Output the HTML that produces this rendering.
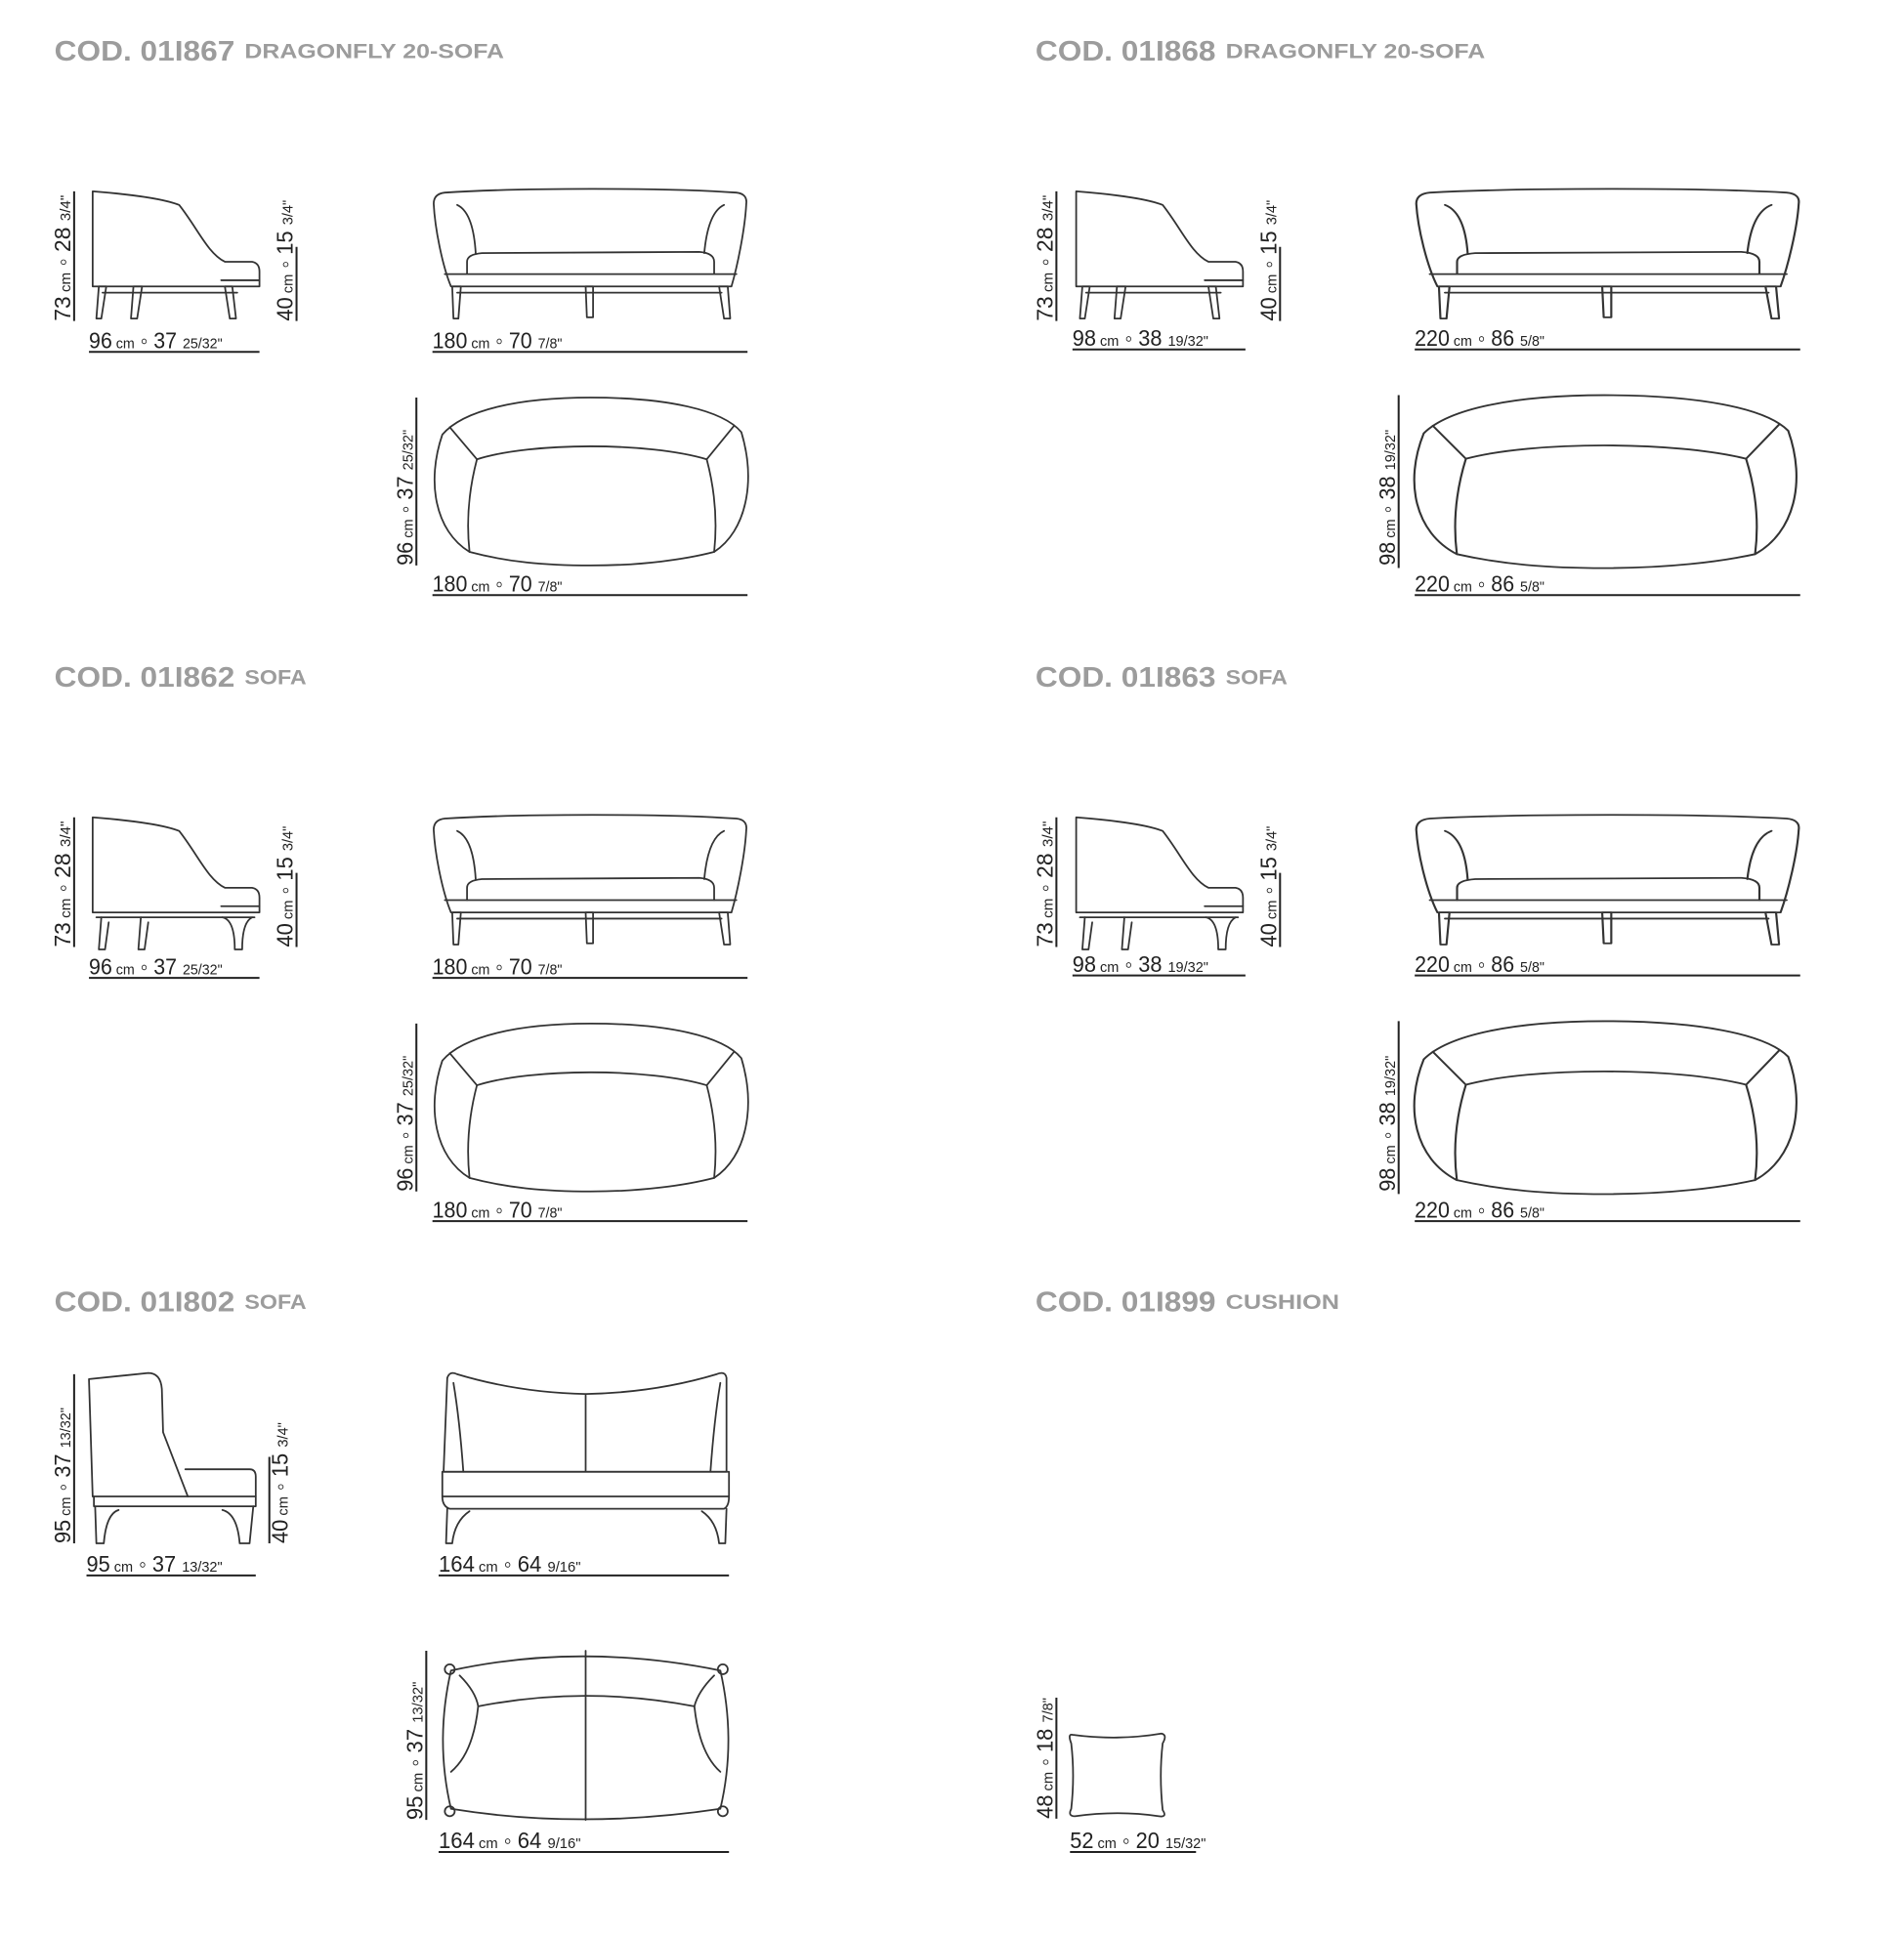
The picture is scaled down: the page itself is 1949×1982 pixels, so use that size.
<!DOCTYPE html>
<html><head><meta charset="utf-8"><style>
html,body{margin:0;padding:0;background:#fff;}
svg{display:block;}
.h1{font-family:"Liberation Sans",sans-serif;font-weight:bold;fill:#9c9c9c;font-size:23px;}
.h2{font-family:"Liberation Sans",sans-serif;font-weight:bold;fill:#9c9c9c;font-size:17px;}
.d{font-family:"Liberation Sans Narrow","Liberation Sans",sans-serif;fill:#222;font-size:18px;}
.s{font-size:12px;}
.ln{stroke:#222;stroke-width:1.6;fill:none;}
.sh{stroke:#333;stroke-width:1.4;fill:none;vector-effect:non-scaling-stroke;stroke-linejoin:round;stroke-linecap:round;}
</style></head><body>
<svg width="1949" height="1982" viewBox="0 0 1541 1568" preserveAspectRatio="none" xmlns="http://www.w3.org/2000/svg">
<defs>
<g id="sideA" class="sh">
<path d="M75,232 L75,155 C100,157 130,160 145,166 C160,185 168,205 182,212 L204,212 Q210,213 210,220 L210,232 Z"/>
<path d="M179,227 L210,227"/>
<path d="M83,237 L192,237"/>
<path d="M80,232 L86,232 L82,258 L78,258 Z"/>
<path d="M108,232 L115,232 L111,258 L106,258 Z"/>
<path d="M182,232 L188,232 L191,258 L186,258 Z"/>
</g>
<g id="sideC" class="sh">
<path d="M75,232 L75,155 C100,157 130,160 145,166 C160,185 168,205 182,212 L204,212 Q210,213 210,220 L210,232 Z"/>
<path d="M179,227 L210,227"/>
<path d="M78,236 L206,236"/>
<path d="M82,236 L80,262 L85,262 L88,240"/>
<path d="M114,236 L112,262 L117,262 L120,240"/>
<path d="M180,236 Q190,238 190,262 L196,262 Q196,240 204,236"/>
</g>
<g id="frontA" class="sh">
<path d="M365,232 C358,215 352,185 351,165 Q351,157 360,156 C420,152 540,152 596,156 Q605,157 604,165 C603,185 597,215 592,232 Z"/>
<path d="M370,166 Q383,172 385,205"/>
<path d="M586,166 Q573,172 570,205"/>
<path d="M378,222 L378,212 Q378,206 390,205 L566,204 Q578,205 578,212 L578,222"/>
<path d="M360,222 L596,222"/>
<path d="M370,237 L584,237"/>
<path d="M366,232 L373,232 L371,258 L367,258 Z"/>
<path d="M474,232 L480,232 L480,257 L475,257 Z"/>
<path d="M582,232 L589,232 L591,258 L586,258 Z"/>
</g>
<g id="topA" class="sh">
<path d="M358,352 C345,390 352,430 380,447 C410,455 440,458 478,458 C520,458 555,453 578,447 C604,430 612,390 600,350 C585,332 540,322 478,322 C420,322 375,332 358,352 Z"/>
<path d="M380,447 Q376,410 386,372 C430,358 525,358 572,372 Q582,410 578,447"/>
<path d="M364,346 L386,372"/>
<path d="M594,345 L572,372"/>
</g>
</defs>

<text class="h1" x="44" y="49" textLength="146" lengthAdjust="spacingAndGlyphs">COD. 01I867</text>
<text class="h2" x="198" y="47" textLength="210" lengthAdjust="spacingAndGlyphs">DRAGONFLY 20-SOFA</text>
<text class="h1" x="838" y="49" textLength="146" lengthAdjust="spacingAndGlyphs">COD. 01I868</text>
<text class="h2" x="992" y="47" textLength="210" lengthAdjust="spacingAndGlyphs">DRAGONFLY 20-SOFA</text>
<text class="h1" x="44" y="556" textLength="146" lengthAdjust="spacingAndGlyphs">COD. 01I862</text>
<text class="h2" x="198" y="554" textLength="50" lengthAdjust="spacingAndGlyphs">SOFA</text>
<text class="h1" x="838" y="556" textLength="146" lengthAdjust="spacingAndGlyphs">COD. 01I863</text>
<text class="h2" x="992" y="554" textLength="50" lengthAdjust="spacingAndGlyphs">SOFA</text>
<text class="h1" x="44" y="1062" textLength="146" lengthAdjust="spacingAndGlyphs">COD. 01I802</text>
<text class="h2" x="198" y="1060" textLength="50" lengthAdjust="spacingAndGlyphs">SOFA</text>
<text class="h1" x="838" y="1062" textLength="146" lengthAdjust="spacingAndGlyphs">COD. 01I899</text>
<text class="h2" x="992" y="1060" textLength="92" lengthAdjust="spacingAndGlyphs">CUSHION</text>

<use href="#sideA"/>
<use href="#frontA"/>
<use href="#topA"/>
<use href="#sideA" transform="translate(796,0)"/>
<use href="#frontA" transform="translate(716.8,0) scale(1.2235,1)"/>
<use href="#topA" transform="translate(715.9,-11.6) scale(1.219,1.03)"/>
<g transform="translate(0,507)">
<use href="#sideC"/>
<use href="#frontA"/>
<use href="#topA"/>
</g>
<g transform="translate(0,507)">
<use href="#sideC" transform="translate(796,0)"/>
<use href="#frontA" transform="translate(716.8,0) scale(1.2235,1)"/>
<use href="#topA" transform="translate(715.9,-11.6) scale(1.219,1.03)"/>
</g>

<g>
<path class="ln" d="M60,155 V260 M240,200 V260 M72,285 H210 M350,285 H605 M337,322 V458 M350,482 H605"/>
<text class="d" transform="translate(57,260) rotate(-90)" textLength="102" lengthAdjust="spacingAndGlyphs">73<tspan class="s"> cm</tspan> ◦ 28 <tspan class="s">3/4"</tspan></text>
<text class="d" transform="translate(237,260) rotate(-90)" textLength="98" lengthAdjust="spacingAndGlyphs">40<tspan class="s"> cm</tspan> ◦ 15 <tspan class="s">3/4"</tspan></text>
<text class="d" x="72" y="282" textLength="108" lengthAdjust="spacingAndGlyphs">96<tspan class="s"> cm</tspan> ◦ 37 <tspan class="s">25/32"</tspan></text>
<text class="d" x="350" y="282" textLength="105" lengthAdjust="spacingAndGlyphs">180<tspan class="s"> cm</tspan> ◦ 70 <tspan class="s">7/8"</tspan></text>
<text class="d" transform="translate(334,458) rotate(-90)" textLength="110" lengthAdjust="spacingAndGlyphs">96<tspan class="s"> cm</tspan> ◦ 37 <tspan class="s">25/32"</tspan></text>
<text class="d" x="350" y="479" textLength="105" lengthAdjust="spacingAndGlyphs">180<tspan class="s"> cm</tspan> ◦ 70 <tspan class="s">7/8"</tspan></text>
</g>
<g transform="translate(0,507)">
<path class="ln" d="M60,155 V260 M240,200 V260 M72,285 H210 M350,285 H605 M337,322 V458 M350,482 H605"/>
<text class="d" transform="translate(57,260) rotate(-90)" textLength="102" lengthAdjust="spacingAndGlyphs">73<tspan class="s"> cm</tspan> ◦ 28 <tspan class="s">3/4"</tspan></text>
<text class="d" transform="translate(237,260) rotate(-90)" textLength="98" lengthAdjust="spacingAndGlyphs">40<tspan class="s"> cm</tspan> ◦ 15 <tspan class="s">3/4"</tspan></text>
<text class="d" x="72" y="282" textLength="108" lengthAdjust="spacingAndGlyphs">96<tspan class="s"> cm</tspan> ◦ 37 <tspan class="s">25/32"</tspan></text>
<text class="d" x="350" y="282" textLength="105" lengthAdjust="spacingAndGlyphs">180<tspan class="s"> cm</tspan> ◦ 70 <tspan class="s">7/8"</tspan></text>
<text class="d" transform="translate(334,458) rotate(-90)" textLength="110" lengthAdjust="spacingAndGlyphs">96<tspan class="s"> cm</tspan> ◦ 37 <tspan class="s">25/32"</tspan></text>
<text class="d" x="350" y="479" textLength="105" lengthAdjust="spacingAndGlyphs">180<tspan class="s"> cm</tspan> ◦ 70 <tspan class="s">7/8"</tspan></text>
</g>
<g>
<path class="ln" d="M855,155 V260 M1036,200 V260 M868,283 H1008 M1145,283 H1457 M1132,320 V460 M1145,482 H1457"/>
<text class="d" transform="translate(852,260) rotate(-90)" textLength="102" lengthAdjust="spacingAndGlyphs">73<tspan class="s"> cm</tspan> ◦ 28 <tspan class="s">3/4"</tspan></text>
<text class="d" transform="translate(1033,260) rotate(-90)" textLength="98" lengthAdjust="spacingAndGlyphs">40<tspan class="s"> cm</tspan> ◦ 15 <tspan class="s">3/4"</tspan></text>
<text class="d" x="868" y="280" textLength="110" lengthAdjust="spacingAndGlyphs">98<tspan class="s"> cm</tspan> ◦ 38 <tspan class="s">19/32"</tspan></text>
<text class="d" x="1145" y="280" textLength="105" lengthAdjust="spacingAndGlyphs">220<tspan class="s"> cm</tspan> ◦ 86 <tspan class="s">5/8"</tspan></text>
<text class="d" transform="translate(1129,458) rotate(-90)" textLength="110" lengthAdjust="spacingAndGlyphs">98<tspan class="s"> cm</tspan> ◦ 38 <tspan class="s">19/32"</tspan></text>
<text class="d" x="1145" y="479" textLength="105" lengthAdjust="spacingAndGlyphs">220<tspan class="s"> cm</tspan> ◦ 86 <tspan class="s">5/8"</tspan></text>
</g>
<g transform="translate(0,507)">
<path class="ln" d="M855,155 V260 M1036,200 V260 M868,283 H1008 M1145,283 H1457 M1132,320 V460 M1145,482 H1457"/>
<text class="d" transform="translate(852,260) rotate(-90)" textLength="102" lengthAdjust="spacingAndGlyphs">73<tspan class="s"> cm</tspan> ◦ 28 <tspan class="s">3/4"</tspan></text>
<text class="d" transform="translate(1033,260) rotate(-90)" textLength="98" lengthAdjust="spacingAndGlyphs">40<tspan class="s"> cm</tspan> ◦ 15 <tspan class="s">3/4"</tspan></text>
<text class="d" x="868" y="280" textLength="110" lengthAdjust="spacingAndGlyphs">98<tspan class="s"> cm</tspan> ◦ 38 <tspan class="s">19/32"</tspan></text>
<text class="d" x="1145" y="280" textLength="105" lengthAdjust="spacingAndGlyphs">220<tspan class="s"> cm</tspan> ◦ 86 <tspan class="s">5/8"</tspan></text>
<text class="d" transform="translate(1129,458) rotate(-90)" textLength="110" lengthAdjust="spacingAndGlyphs">98<tspan class="s"> cm</tspan> ◦ 38 <tspan class="s">19/32"</tspan></text>
<text class="d" x="1145" y="479" textLength="105" lengthAdjust="spacingAndGlyphs">220<tspan class="s"> cm</tspan> ◦ 86 <tspan class="s">5/8"</tspan></text>
</g>

<g class="sh">
<path d="M75,1212 L72,1117 L120,1112 Q130,1112 131,1125 L132,1160 L152,1212"/>
<path d="M150,1190 L202,1190 Q207,1190 207,1196 L207,1212 L75,1212"/>
<path d="M76,1212 L76,1220 L207,1220 L207,1212"/>
<path d="M77,1220 L78,1250 L84,1250 Q86,1226 96,1223"/>
<path d="M180,1223 Q192,1226 194,1250 L202,1250 L205,1220"/>
<path d="M362,1116 Q364,1110 370,1113 Q420,1128 474,1129 Q530,1128 580,1113 Q587,1110 588,1116 L588,1192 L359,1192 Z"/>
<path d="M367,1120 Q372,1150 375,1192"/>
<path d="M583,1120 Q578,1150 575,1192"/>
<path d="M474,1130 V1191"/>
<path d="M358,1192 L590,1192 L590,1212 L358,1212 Z"/>
<path d="M358,1212 Q358,1220 364,1222 L586,1222 Q590,1220 590,1212"/>
<path d="M362,1222 L361,1250 L366,1250 Q368,1232 380,1224"/>
<path d="M568,1224 Q580,1232 582,1250 L587,1250 L588,1222"/>
<path d="M365,1353 Q470,1330 583,1353 Q596,1410 583,1465 Q470,1482 365,1465 Q352,1410 365,1353 Z"/>
<path d="M372,1357 Q385,1370 387,1382 Q474,1365 562,1382 Q565,1370 578,1357"/>
<path d="M387,1382 Q383,1420 365,1435"/>
<path d="M562,1382 Q566,1420 583,1435"/>
<path d="M474,1337 V1474"/>
<circle cx="364" cy="1352" r="4"/>
<circle cx="585" cy="1352" r="4"/>
<circle cx="364" cy="1467" r="4"/>
<circle cx="585" cy="1467" r="4"/>
<path d="M868,1405 Q905,1410 940,1404 Q945,1405 941,1412 Q938,1438 941,1466 Q945,1472 938,1471 Q905,1466 870,1471 Q864,1471 867,1465 Q870,1438 867,1412 Q864,1404 868,1405 Z"/>
</g>
<path class="ln" d="M60,1113 V1250 M218,1180 V1250 M70,1276 H207 M355,1276 H590 M345,1337 V1474 M355,1500 H590 M855,1375 V1473 M866,1500 H968"/>
<text class="d" transform="translate(57,1250) rotate(-90)" textLength="110" lengthAdjust="spacingAndGlyphs">95<tspan class="s"> cm</tspan> ◦ 37 <tspan class="s">13/32"</tspan></text>
<text class="d" transform="translate(233,1250) rotate(-90)" textLength="98" lengthAdjust="spacingAndGlyphs">40<tspan class="s"> cm</tspan> ◦ 15 <tspan class="s">3/4"</tspan></text>
<text class="d" x="70" y="1273" textLength="110" lengthAdjust="spacingAndGlyphs">95<tspan class="s"> cm</tspan> ◦ 37 <tspan class="s">13/32"</tspan></text>
<text class="d" x="355" y="1273" textLength="115" lengthAdjust="spacingAndGlyphs">164<tspan class="s"> cm</tspan> ◦ 64 <tspan class="s">9/16"</tspan></text>
<text class="d" transform="translate(342,1474) rotate(-90)" textLength="112" lengthAdjust="spacingAndGlyphs">95<tspan class="s"> cm</tspan> ◦ 37 <tspan class="s">13/32"</tspan></text>
<text class="d" x="355" y="1497" textLength="115" lengthAdjust="spacingAndGlyphs">164<tspan class="s"> cm</tspan> ◦ 64 <tspan class="s">9/16"</tspan></text>
<text class="d" transform="translate(852,1473) rotate(-90)" textLength="98" lengthAdjust="spacingAndGlyphs">48<tspan class="s"> cm</tspan> ◦ 18 <tspan class="s">7/8"</tspan></text>
<text class="d" x="866" y="1497" textLength="110" lengthAdjust="spacingAndGlyphs">52<tspan class="s"> cm</tspan> ◦ 20 <tspan class="s">15/32"</tspan></text>
</svg>
</body></html>
